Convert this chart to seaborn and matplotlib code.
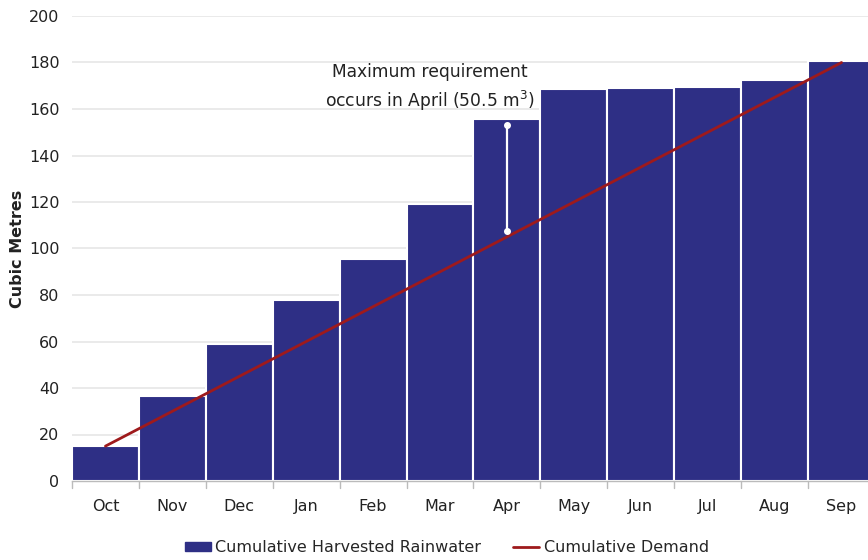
import matplotlib
matplotlib.use("Agg")
import matplotlib.pyplot as plt
import matplotlib.patches as mpatches
import matplotlib.lines as mlines
import seaborn as sns
import pandas as pd

months = ["Oct", "Nov", "Dec", "Jan", "Feb", "Mar", "Apr", "May", "Jun", "Jul", "Aug", "Sep"]
harvested = [15, 36.5, 59, 78, 95.5, 119, 155.5, 168.5, 169, 169.5, 172.5, 180.5]
demand = [15, 30, 45, 60, 75, 90, 105, 120, 135, 150, 165, 180]
y_ticks = [0, 20, 40, 60, 80, 100, 120, 140, 160, 180, 200]

bar_color = "#2e2f85"
line_color = "#9e1a1c"

sns.set_theme(style="white")
plt.rcParams["font.family"] = ["DejaVu Sans"]

df = pd.DataFrame({"month": months, "harvested": harvested, "demand": demand})

fig = plt.figure(figsize=(8.68, 5.6), dpi=100)
ax = fig.add_axes([72 / 868, 1 - 481 / 560, (875 - 72) / 868, (481 - 16) / 560])

sns.barplot(data=df, x="month", y="harvested", color=bar_color, width=1.0,
            edgecolor="white", linewidth=1.5, saturation=1, ax=ax, zorder=2)
ax.plot(range(len(months)), demand, color=line_color, linewidth=2.0, zorder=3)

# Gap between April demand and harvested supply
apr = months.index("Apr")
ax.plot([apr, apr], [demand[apr] + 2.5, harvested[apr] - 2.5], color="white",
        linewidth=1.6, marker="o", markersize=4, zorder=4)
ax.text(4.85, 169, "Maximum requirement\noccurs in April (50.5 m$^3$)",
        ha="center", va="center", fontsize=12.3, linespacing=1.4, color="#222222",
        zorder=5)

ax.set_xlim(-0.5, len(months) - 0.5)
ax.set_ylim(0, 200)
ax.set_yticks(y_ticks)
ax.set_yticklabels([str(v) for v in y_ticks], fontsize=11.5, color="#222222")
ax.set_xticks(range(len(months)))
ax.set_xticklabels(months, fontsize=11.5, color="#222222")
ax.tick_params(axis="x", length=0, pad=13)
ax.tick_params(axis="y", length=0, pad=9)
ax.set_xlabel("")
ax.set_ylabel("Cubic Metres", fontsize=11.5, fontweight="bold", color="#222222", labelpad=3)

ax.yaxis.grid(True, color="#e6e6e6", linewidth=1.2, zorder=0)
ax.set_axisbelow(True)
for s in ["top", "right", "left"]:
    ax.spines[s].set_visible(False)
ax.spines["bottom"].set_color("#bbbbbb")
ax.spines["bottom"].set_linewidth(1)

# boundary ticks between categories
for b in [i - 0.5 for i in range(len(months) + 1)]:
    ax.plot([b, b], [0, -3], color="#bbbbbb", linewidth=1, clip_on=False, zorder=1)

handles = [
    mpatches.Patch(color=bar_color, label="Cumulative Harvested Rainwater"),
    mlines.Line2D([], [], color=line_color, linewidth=2, label="Cumulative Demand"),
]
fig.legend(handles=handles, loc="center", bbox_to_anchor=(447 / 868, 1 - 548 / 560),
           ncol=2, frameon=False, fontsize=11.5, handlelength=1.6, handleheight=0.5,
           handletextpad=0.3, columnspacing=2.0)

fig.savefig("out.png", dpi=100)
